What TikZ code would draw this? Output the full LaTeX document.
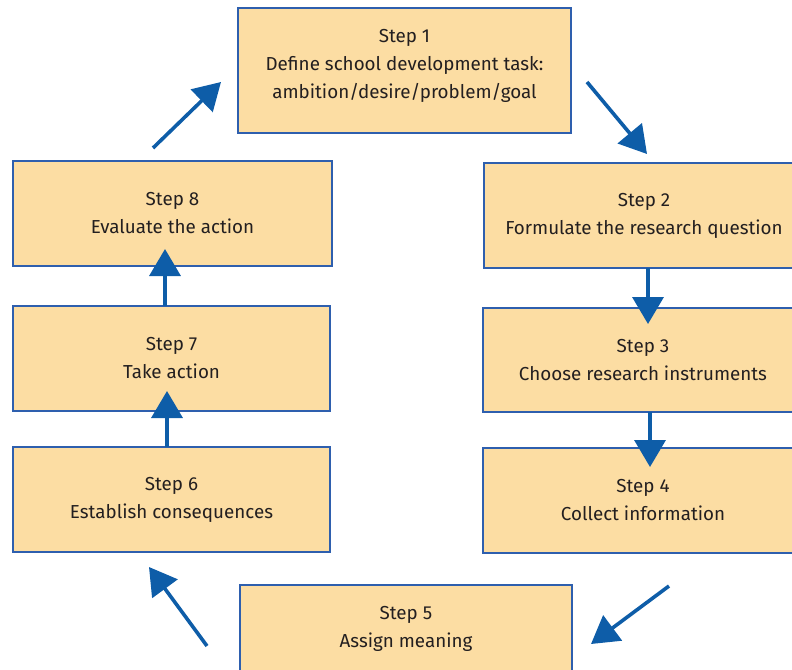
\documentclass[tikz,border=0pt]{standalone}
\usepackage{fontspec}
\setmainfont{Fira Sans}
\usetikzlibrary{arrows.meta}
\definecolor{boxfill}{HTML}{FCDDA3}
\definecolor{boxline}{HTML}{2E5FAE}
\definecolor{arrowblue}{HTML}{0E5DA8}
\begin{document}
\begin{tikzpicture}[x=1pt,y=-1pt,
  stepbox/.style={draw=boxline,line width=1.3pt,fill=boxfill,align=center,
    font=\fontsize{18.8}{28}\selectfont\color[HTML]{231F20},inner sep=0pt},
  flow/.style={draw=arrowblue,line width=3.6pt,-{Triangle[length=27pt,width=31pt]}}]
\useasboundingbox (0,0) rectangle (792,669);
\clip (0,0) rectangle (792,669);
\node[stepbox,minimum width=333pt,minimum height=125pt,text depth=14pt] (s1) at (404.5,70.5)
  {Step 1\\Define school development task:\\ambition/desire/problem/goal};
\node[stepbox,minimum width=320pt,minimum height=105pt] (s2) at (644,215.5)
  {Step 2\\Formulate the research question};
\node[stepbox,minimum width=320pt,minimum height=104pt] (s3) at (643,360)
  {Step 3\\Choose research instruments};
\node[stepbox,minimum width=320pt,minimum height=105pt] (s4) at (643,500.5)
  {Step 4\\Collect information};
\node[stepbox,minimum width=332pt,minimum height=88pt] (s5) at (406,629)
  {Step 5\\Assign meaning};
\node[stepbox,minimum width=317pt,minimum height=105pt] (s6) at (171.5,499.5)
  {Step 6\\Establish consequences};
\node[stepbox,minimum width=317pt,minimum height=105pt] (s7) at (171.5,358.5)
  {Step 7\\Take action};
\node[stepbox,minimum width=319pt,minimum height=105pt] (s8) at (172.5,213.5)
  {Step 8\\Evaluate the action};
% connector end points
\coordinate (a81) at (153,148);  \coordinate (b81) at (221,82);
\coordinate (a12) at (587,82);   \coordinate (b12) at (647,154);
\coordinate (a23) at (648,268);  \coordinate (b23) at (648,324);
\coordinate (a34) at (650,412);  \coordinate (b34) at (650,467);
\coordinate (a45) at (669,586);  \coordinate (b45) at (591,644);
\coordinate (a56) at (207,646);  \coordinate (b56) at (149,567);
\coordinate (a67) at (167,447);  \coordinate (b67) at (167,391);
\coordinate (a78) at (165,306);  \coordinate (b78) at (165,249);
\draw[flow] (a81) -- (b81);
\draw[flow] (a12) -- (b12);
\draw[flow] (a23) -- (b23);
\draw[flow] (a34) -- (b34);
\draw[flow] (a45) -- (b45);
\draw[flow] (a56) -- (b56);
\draw[flow] (a67) -- (b67);
\draw[flow] (a78) -- (b78);
\end{tikzpicture}
\end{document}
